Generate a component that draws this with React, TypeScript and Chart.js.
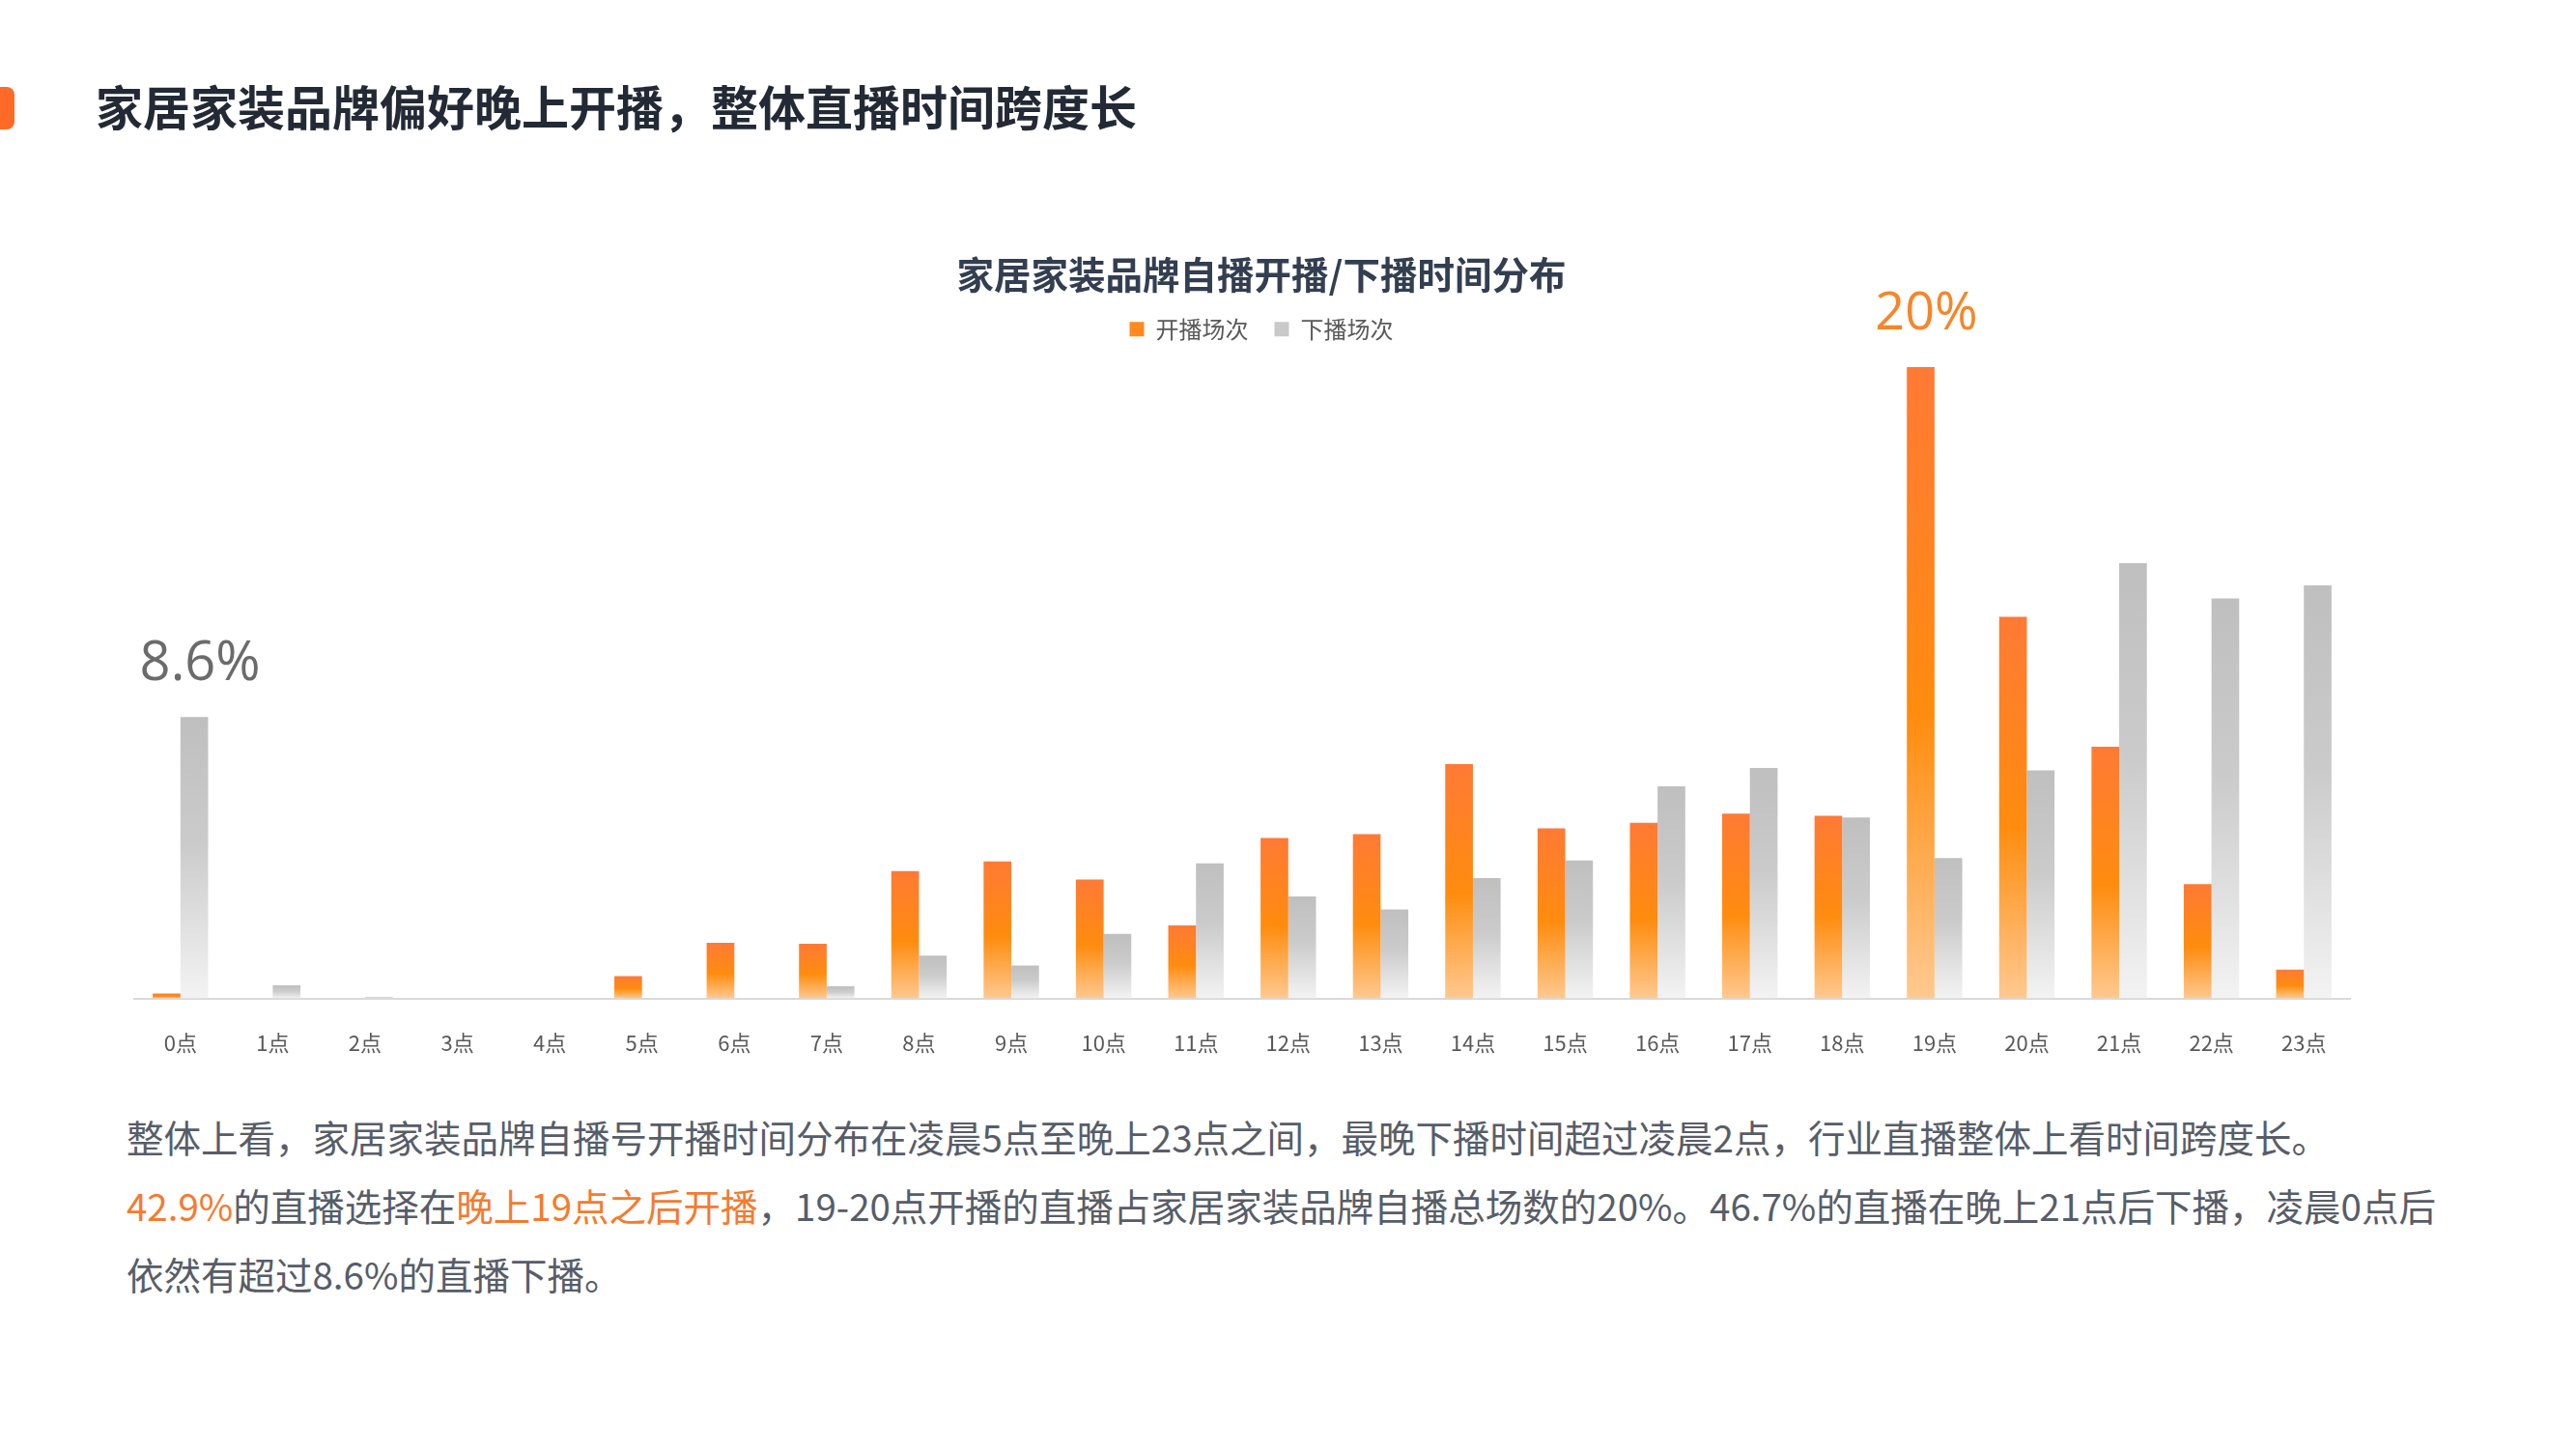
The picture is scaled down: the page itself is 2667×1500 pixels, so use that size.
import React, { useEffect, useRef } from 'react';
import { Chart, registerables } from 'chart.js';

Chart.register(...registerables);

// ---------- data ----------
const hours = ['0点', '1点', '2点', '3点', '4点', '5点', '6点', '7点', '8点', '9点', '10点', '11点',
  '12点', '13点', '14点', '15点', '16点', '17点', '18点', '19点', '20点', '21点', '22点', '23点'];

// 开播场次 share (%) by hour
const startShare = [0.15, 0, 0, 0, 0, 0.68, 1.70, 1.67, 3.89, 4.19, 3.63, 2.23,
  4.90, 5.02, 7.16, 5.20, 5.37, 5.65, 5.58, 19.29, 11.66, 7.69, 3.49, 0.88];

// 下播场次 share (%) by hour
const endShare = [8.60, 0.40, 0.04, 0, 0, 0, 0, 0.37, 1.31, 1.01, 1.97, 4.13,
  3.12, 2.72, 3.68, 4.22, 6.48, 7.04, 5.53, 4.29, 6.97, 13.30, 12.22, 12.62];

const seriesNames = ['开播场次', '下播场次'];

const callouts = [
  { series: 1, index: 0, text: '8.6%', color: '#6B6B6B', size: 56 },
  { series: 0, index: 19, text: '20%', color: '#F5862A', size: 54 },
];

const pageTitle = '家居家装品牌偏好晚上开播，整体直播时间跨度长';
const chartTitle = '家居家装品牌自播开播/下播时间分布';

const CJK = "'Noto Sans CJK SC', 'Noto Sans', sans-serif";

const orangeStops: [number, string][] = [[0, '#FF7A35'], [0.55, '#FF8C0E'], [1, '#FFC990']];
const grayStops: [number, string][] = [[0, '#BFBFBF'], [0.45, '#CBCBCB'], [1, '#F3F3F3']];

function barGradient(stops: [number, string][]) {
  return (ctx: any) => {
    const chart = ctx.chart;
    const y = chart.scales && chart.scales.y;
    if (!y || ctx.type !== 'data') return stops[0][1];
    const top = y.getPixelForValue(ctx.raw);
    const base = y.getPixelForValue(0);
    if (!isFinite(top) || !isFinite(base) || Math.abs(base - top) < 0.5) return stops[0][1];
    const g = chart.ctx.createLinearGradient(0, top, 0, base);
    stops.forEach(([o, c]) => g.addColorStop(o, c));
    return g;
  };
}

const calloutPlugin = {
  id: 'callouts',
  afterDatasetsDraw(chart: any) {
    const ctx = chart.ctx;
    ctx.save();
    ctx.textAlign = 'center';
    ctx.textBaseline = 'middle';
    callouts.forEach((c) => {
      const el = chart.getDatasetMeta(c.series).data[c.index];
      if (!el) return;
      ctx.font = `400 ${c.size}px 'Open Sans', 'Noto Sans', sans-serif`;
      ctx.fillStyle = c.color;
      ctx.fillText(c.text, el.x + 6, el.y - 54);
    });
    ctx.restore();
  },
};

export default function App() {
  const canvasRef = useRef<HTMLCanvasElement | null>(null);

  useEffect(() => {
    document.body.style.margin = '0';
    const canvas = canvasRef.current;
    if (!canvas) return;
    const legendFills = ['#FF8A1F', '#C9C9C9'];
    const chart = new Chart(canvas, {
      type: 'bar',
      data: {
        labels: hours,
        datasets: [
          { label: seriesNames[0], data: startShare, backgroundColor: barGradient(orangeStops) as any, borderWidth: 0 },
          { label: seriesNames[1], data: endShare, backgroundColor: barGradient(grayStops) as any, borderWidth: 0 },
        ],
      },
      options: {
        animation: false,
        responsive: false,
        maintainAspectRatio: false,
        events: [],
        layout: { padding: 0 },
        datasets: { bar: { categoryPercentage: 0.6, barPercentage: 1 } } as any,
        plugins: {
          title: {
            display: true,
            text: chartTitle,
            color: '#333F50',
            font: { size: 38.5, weight: 'bold', family: CJK, lineHeight: 0.8 },
            padding: { top: 22, bottom: 2 },
          },
          legend: {
            display: true,
            position: 'top',
            labels: {
              boxWidth: 15,
              boxHeight: 15,
              color: '#595959',
              padding: 27,
              font: { size: 24, family: CJK },
              generateLabels: (ch: any) =>
                ch.data.datasets.map((ds: any, i: number) => ({
                  text: ds.label,
                  fillStyle: legendFills[i],
                  strokeStyle: legendFills[i],
                  lineWidth: 0,
                  hidden: false,
                  datasetIndex: i,
                  fontColor: '#595959',
                })),
            },
          },
          tooltip: { enabled: false },
        },
        scales: {
          x: {
            grid: { display: false, drawTicks: false },
            border: { display: true, color: '#D9D9D9', width: 2 },
            ticks: { color: '#595959', font: { size: 22, family: CJK }, padding: 33 },
          },
          y: {
            display: true,
            position: 'left',
            min: 0,
            max: 19.8,
            grid: { display: false, drawTicks: false },
            border: { display: false },
            ticks: { display: false },
            afterFit: (s: any) => { s.width = 139; },
          },
          yRight: {
            display: true,
            position: 'right',
            min: 0,
            max: 1,
            grid: { display: false, drawTicks: false },
            border: { display: false },
            ticks: { display: false },
            afterFit: (s: any) => { s.width = 179; },
          },
        },
      } as any,
      plugins: [calloutPlugin],
    });
    return () => chart.destroy();
  }, []);

  return (
    <div style={{ position: 'absolute', left: 0, top: 0, width: 2667, height: 1500, background: '#FFFFFF', overflow: 'hidden', fontFamily: CJK }}>
      <div style={{ position: 'absolute', left: 0, top: 90, width: 15, height: 44, background: '#FF6A26', borderRadius: '0 8px 8px 0' }} />
      <div style={{ position: 'absolute', left: 99, top: 79, height: 60, lineHeight: '60px', fontSize: 49, fontWeight: 700, color: '#232A35', whiteSpace: 'nowrap' }}>
        {pageTitle}
      </div>
      <canvas ref={canvasRef} width={2612} height={879} style={{ position: 'absolute', left: 0, top: 247, width: 2612, height: 879 }} />
      <div style={{ position: 'absolute', left: 131, top: 1141, fontSize: 38.5, lineHeight: '71px', color: '#575D68', whiteSpace: 'nowrap' }}>
        <div>整体上看，家居家装品牌自播号开播时间分布在凌晨5点至晚上23点之间，最晚下播时间超过凌晨2点，行业直播整体上看时间跨度长。</div>
        <div>
          <span style={{ color: '#F47B2F' }}>42.9%</span>的直播选择在<span style={{ color: '#F47B2F' }}>晚上19点之后开播</span>，19-20点开播的直播占家居家装品牌自播总场数的20%。46.7%的直播在晚上21点后下播，凌晨0点后
        </div>
        <div>依然有超过8.6%的直播下播。</div>
      </div>
    </div>
  );
}
